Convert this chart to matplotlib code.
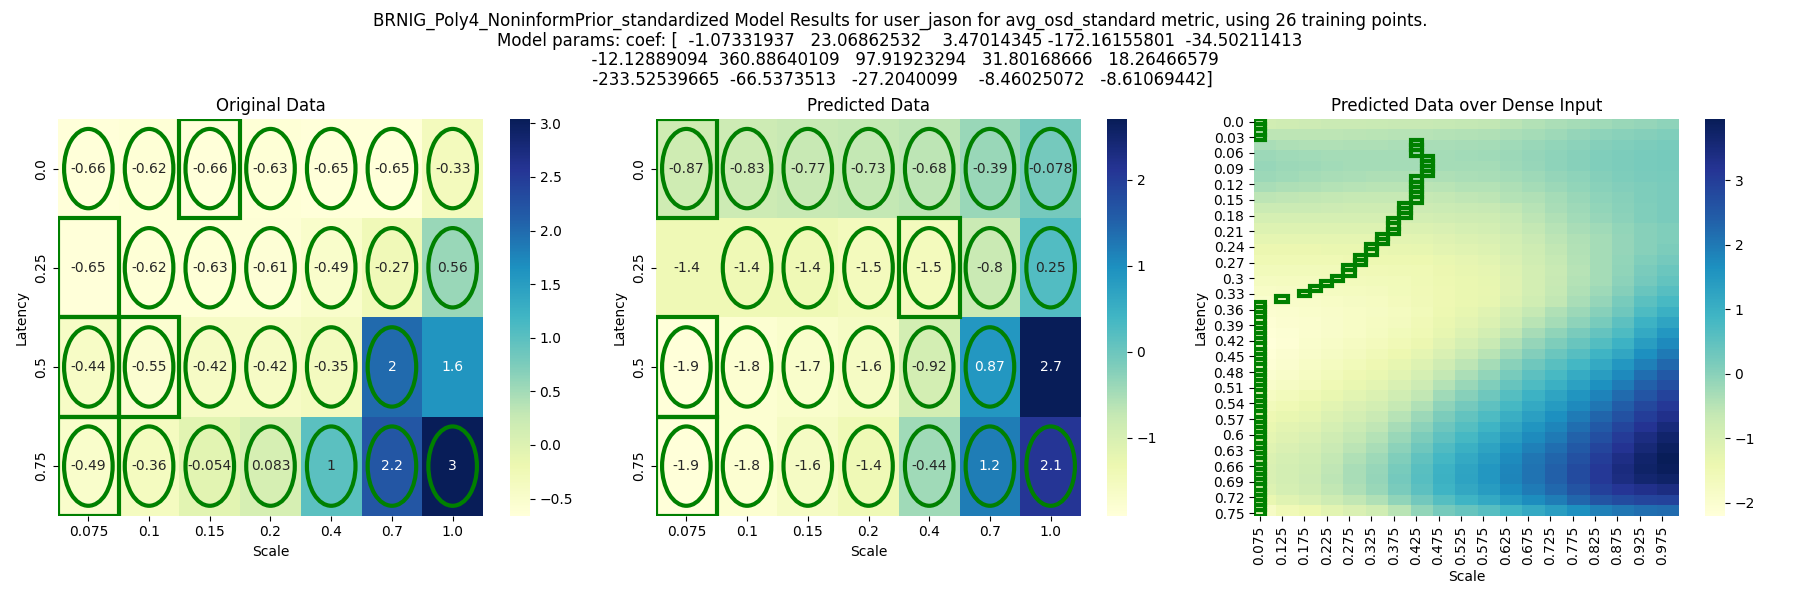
import numpy as np
import matplotlib
matplotlib.use("Agg")
import matplotlib.pyplot as plt
import seaborn as sns
from matplotlib.patches import Rectangle, Circle

SCALES = [0.075, 0.1, 0.15, 0.2, 0.4, 0.7, 1.0]
LATENCIES = [0.0, 0.25, 0.5, 0.75]

ORIGINAL = [
    [-0.66, -0.62, -0.66, -0.63, -0.65, -0.65, -0.33],
    [-0.65, -0.62, -0.63, -0.61, -0.49, -0.27, 0.56],
    [-0.44, -0.55, -0.42, -0.42, -0.35, 2.0, 1.6],
    [-0.49, -0.36, -0.054, 0.083, 1.0, 2.2, 3.04],
]
PREDICTED = [
    [-0.87, -0.83, -0.77, -0.73, -0.68, -0.39, -0.078],
    [-1.4, -1.4, -1.4, -1.5, -1.5, -0.8, 0.25],
    [-1.91, -1.8, -1.7, -1.6, -0.92, 0.87, 2.71],
    [-1.9, -1.8, -1.6, -1.4, -0.44, 1.2, 2.1],
]

# (col, row) of the boxed cells and of the cells with no training point
ORIGINAL_BOXES = [(2, 0), (0, 1), (0, 2), (1, 2), (0, 3)]
PREDICTED_BOXES = [(0, 0), (4, 1), (0, 2), (0, 3)]
NOT_TRAINED = [(0, 1), (6, 2)]

DENSE_SCALE_LABELS = ["0.075", "0.125", "0.175", "0.225", "0.275", "0.325", "0.375", "0.425", "0.475", "0.525",
                      "0.575", "0.625", "0.675", "0.725", "0.775", "0.825", "0.875", "0.925", "0.975"]
DENSE_LATENCY_LABELS = ["0.0", "0.03", "0.06", "0.09", "0.12", "0.15", "0.18", "0.21", "0.24", "0.27", "0.3", "0.33",
                        "0.36", "0.39", "0.42", "0.45", "0.48", "0.51", "0.54", "0.57", "0.6", "0.63", "0.66", "0.69",
                        "0.72", "0.75"]

# at each labelled scale, every second latency row
DENSE = [
    [-.87, -.82, -.76, -.72, -.72, -.70, -.68, -.67, -.65, -.62, -.60, -.52, -.43, -.36, -.30, -.25, -.18, -.12, -.06],
    [-.55, -.55, -.55, -.55, -.52, -.50, -.49, -.48, -.47, -.44, -.42, -.36, -.28, -.22, -.12, -.06, .00, .05, .10],
    [-.35, -.38, -.40, -.40, -.39, -.38, -.36, -.35, -.34, -.32, -.30, -.25, -.18, -.10, -.02, .05, .10, .15, .18],
    [-.20, -.24, -.27, -.29, -.30, -.30, -.30, -.30, -.29, -.27, -.25, -.20, -.13, -.05, .03, .10, .15, .19, .21],
    [-.15, -.19, -.23, -.27, -.29, -.30, -.30, -.30, -.30, -.29, -.28, -.22, -.15, -.06, .03, .10, .15, .19, .21],
    [-.20, -.24, -.28, -.33, -.36, -.38, -.39, -.40, -.38, -.36, -.35, -.29, -.22, -.13, -.04, .05, .11, .16, .18],
    [-.35, -.38, -.42, -.45, -.48, -.50, -.51, -.52, -.50, -.47, -.45, -.38, -.30, -.20, -.10, .00, .06, .12, .16],
    [-.55, -.57, -.60, -.62, -.64, -.65, -.65, -.65, -.62, -.58, -.55, -.47, -.40, -.28, -.17, -.05, .03, .11, .16],
    [-.75, -.75, -.75, -.77, -.79, -.80, -.79, -.78, -.75, -.71, -.68, -.60, -.48, -.34, -.22, -.10, .00, .10, .16],
    [-.95, -.95, -.95, -.95, -.95, -.95, -.93, -.90, -.87, -.83, -.80, -.70, -.55, -.40, -.27, -.15, -.02, .09, .16],
    [-1.1, -1.1, -1.1, -1.1, -1.1, -1.1, -1.08, -1.05, -1.0, -.95, -.90, -.78, -.63, -.48, -.35, -.25, -.10, .02, .10],
    [-1.25, -1.25, -1.25, -1.25, -1.25, -1.25, -1.23, -1.2, -1.14, -1.07, -1.0, -.88, -.72, -.55, -.40, -.28, -.12, .02, .10],
    [-1.4, -1.4, -1.4, -1.38, -1.36, -1.35, -1.33, -1.3, -1.23, -1.16, -1.1, -.95, -.80, -.60, -.43, -.30, -.13, .03, .15],
    [-1.5, -1.5, -1.5, -1.48, -1.46, -1.45, -1.44, -1.42, -1.35, -1.27, -1.2, -1.03, -.85, -.65, -.47, -.30, -.10, .10, .25],
    [-1.62, -1.61, -1.6, -1.58, -1.56, -1.55, -1.52, -1.48, -1.4, -1.33, -1.27, -1.1, -.90, -.70, -.48, -.30, -.07, .17, .35],
    [-1.72, -1.71, -1.7, -1.67, -1.64, -1.62, -1.58, -1.52, -1.44, -1.36, -1.3, -1.12, -.90, -.68, -.46, -.28, -.02, .25, .45],
    [-1.82, -1.8, -1.78, -1.74, -1.71, -1.68, -1.62, -1.55, -1.46, -1.38, -1.32, -1.12, -.90, -.65, -.42, -.22, .05, .38, .60],
    [-1.95, -1.9, -1.87, -1.82, -1.78, -1.75, -1.66, -1.57, -1.46, -1.37, -1.3, -1.08, -.85, -.60, -.35, -.12, .18, .55, .80],
    [-2.03, -1.98, -1.93, -1.88, -1.83, -1.78, -1.7, -1.58, -1.45, -1.3, -1.15, -.90, -.65, -.42, -.20, .02, .32, .72, 1.0],
    [-2.1, -2.03, -1.97, -1.9, -1.83, -1.76, -1.68, -1.55, -1.38, -1.22, -1.05, -.80, -.50, -.28, -.04, .20, .52, .95, 1.25],
    [-2.15, -2.07, -1.98, -1.9, -1.82, -1.72, -1.62, -1.5, -1.3, -1.1, -.88, -.60, -.32, -.08, .16, .42, .72, 1.15, 1.5],
    [-2.2, -2.08, -1.95, -1.85, -1.76, -1.67, -1.55, -1.4, -1.18, -.95, -.70, -.42, -.12, .13, .38, .65, .95, 1.4, 1.75],
    [-2.15, -2.03, -1.9, -1.78, -1.68, -1.57, -1.43, -1.25, -1.0, -.75, -.50, -.22, .08, .35, .60, .90, 1.2, 1.65, 2.0],
    [-2.1, -1.97, -1.83, -1.7, -1.58, -1.47, -1.3, -1.1, -.82, -.56, -.30, .00, .30, .58, .85, 1.15, 1.5, 1.9, 2.25],
    [-2.0, -1.88, -1.75, -1.6, -1.47, -1.35, -1.17, -.95, -.62, -.36, -.10, .20, .52, .80, 1.1, 1.4, 1.75, 2.15, 2.5],
    [-1.9, -1.78, -1.68, -1.5, -1.35, -1.22, -1.02, -.78, -.45, -.17, .10, .40, .72, 1.0, 1.32, 1.62, 1.98, 2.37, 2.7],
    [-1.75, -1.63, -1.52, -1.35, -1.2, -1.05, -.84, -.60, -.25, .03, .30, .62, .95, 1.25, 1.55, 1.85, 2.2, 2.58, 2.9],
    [-1.6, -1.48, -1.37, -1.2, -1.03, -.88, -.65, -.40, -.05, .23, .50, .82, 1.15, 1.45, 1.75, 2.05, 2.42, 2.8, 3.1],
    [-1.47, -1.35, -1.24, -1.05, -.88, -.72, -.48, -.20, .15, .45, .72, 1.03, 1.35, 1.65, 1.97, 2.3, 2.65, 3.0, 3.3],
    [-1.35, -1.22, -1.12, -.93, -.75, -.58, -.32, -.02, .33, .63, .90, 1.23, 1.55, 1.83, 2.17, 2.5, 2.85, 3.2, 3.5],
    [-1.25, -1.12, -1.02, -.83, -.63, -.45, -.18, .14, .50, .82, 1.1, 1.42, 1.73, 2.0, 2.35, 2.7, 3.05, 3.4, 3.7],
    [-1.15, -1.03, -.92, -.72, -.52, -.33, -.02, .32, .70, 1.0, 1.27, 1.6, 1.9, 2.15, 2.5, 2.85, 3.2, 3.55, 3.85],
    [-1.07, -.95, -.84, -.63, -.42, -.22, .10, .47, .85, 1.15, 1.42, 1.73, 2.03, 2.3, 2.65, 3.0, 3.35, 3.7, 3.95],
    [-1.0, -.90, -.80, -.57, -.35, -.15, .20, .57, .95, 1.25, 1.5, 1.8, 2.1, 2.38, 2.75, 3.1, 3.45, 3.75, 3.9],
    [-1.0, -.88, -.78, -.55, -.33, -.12, .23, .60, .98, 1.27, 1.52, 1.82, 2.1, 2.38, 2.75, 3.1, 3.4, 3.65, 3.75],
    [-1.1, -.95, -.82, -.60, -.38, -.18, .17, .53, .90, 1.18, 1.42, 1.7, 1.98, 2.25, 2.6, 2.95, 3.15, 3.3, 3.4],
    [-1.35, -1.15, -1.02, -.80, -.60, -.40, -.07, .27, .62, .90, 1.15, 1.43, 1.7, 1.95, 2.28, 2.6, 2.75, 2.85, 2.9],
    [-1.8, -1.55, -1.42, -1.2, -1.03, -.85, -.50, -.10, .22, .40, .60, .88, 1.15, 1.4, 1.65, 1.9, 2.05, 2.15, 2.2],
]

# best column for each of the 76 dense latency rows
DENSE_BEST_COL = [0] * 4 + [14] * 3 + [15] * 4 + [14] * 5 + [13] * 3 + [12] * 3 + [11] * 2 + [10] * 2 + [9] * 2 + [8] * 2 \
    + [7, 6, 5, 4, 2] + [0] * 41

TITLE = ("BRNIG_Poly4_NoninformPrior_standardized Model Results for user_jason for avg_osd_standard metric, "
         "using 26 training points.\n"
         "Model params: coef: [  -1.07331937   23.06862532    3.47014345 -172.16155801  -34.50211413\n"
         "  -12.12889094  360.88640109   97.91923294   31.80168666   18.26466579\n"
         " -233.52539665  -66.5373513   -27.2040099    -8.46025072   -8.61069442]")

W, H = 1800.0, 600.0


def place(fig, left, width=425.0):
    bottom = (H - 515.7) / H
    height = 396.7 / H
    ax = fig.add_axes([left / W, bottom, width / W, height])
    return ax


fig = plt.figure(figsize=(18, 6), dpi=100)
axes = [place(fig, 58), place(fig, 656), place(fig, 1254)]
caxes = [place(fig, 510, 19.8), place(fig, 1107, 19.8), place(fig, 1705, 19.8)]

titles = ["Original Data", "Predicted Data"]
for i, (data, boxes) in enumerate([(ORIGINAL, ORIGINAL_BOXES), (PREDICTED, PREDICTED_BOXES)]):
    ax = axes[i]
    sns.heatmap(np.array(data), annot=True, cmap="YlGnBu", ax=ax, cbar_ax=caxes[i],
                xticklabels=SCALES, yticklabels=LATENCIES)
    ax.set_title(titles[i])
    ax.set_xlabel("Scale")
    ax.set_ylabel("Latency")
    for col, row in boxes:
        ax.add_patch(Rectangle((col, row), 1, 1, fill=False, edgecolor="green", lw=3))
    for row in range(len(LATENCIES)):
        for col in range(len(SCALES)):
            if (col, row) not in NOT_TRAINED:
                ax.add_patch(Circle((col + 0.5, row + 0.5), 0.4, fill=False, edgecolor="green", lw=3))

# each read value covers two scale columns and two latency rows of the dense grid
dense = np.repeat(np.repeat(np.array(DENSE), 2, axis=0), 2, axis=1)
ax = axes[2]
sns.heatmap(dense, cmap="YlGnBu", ax=ax, cbar_ax=caxes[2], xticklabels=False, yticklabels=False)
ax.set_xticks(np.arange(len(DENSE_SCALE_LABELS)) * 2 + 0.5)
ax.set_xticklabels(DENSE_SCALE_LABELS, rotation=90)
ax.set_yticks(np.arange(len(DENSE_LATENCY_LABELS)) * 3 + 0.5)
ax.set_yticklabels(DENSE_LATENCY_LABELS, rotation=0)
ax.set_title("Predicted Data over Dense Input")
ax.set_xlabel("Scale")
ax.set_ylabel("Latency")
for row, col in enumerate(DENSE_BEST_COL):
    ax.add_patch(Rectangle((col, row), 1, 1, fill=False, edgecolor="green", lw=3))

fig.suptitle(TITLE, fontsize=12, y=0.98, linespacing=1.1)
fig.savefig("out.png", dpi=100)
